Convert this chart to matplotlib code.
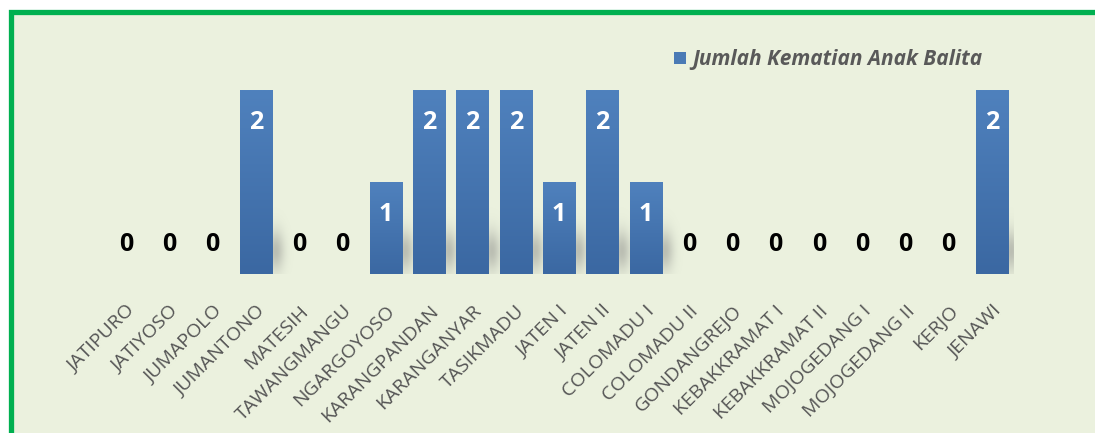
import numpy as np
import matplotlib
matplotlib.use("Agg")
import matplotlib.pyplot as plt
from matplotlib.patches import Rectangle
from matplotlib.colors import LinearSegmentedColormap

desa = ["JATIPURO", "JATIYOSO", "JUMAPOLO", "JUMANTONO", "MATESIH", "TAWANGMANGU",
        "NGARGOYOSO", "KARANGPANDAN", "KARANGANYAR", "TASIKMADU", "JATEN I", "JATEN II",
        "COLOMADU I", "COLOMADU II", "GONDANGREJO", "KEBAKKRAMAT I", "KEBAKKRAMAT II",
        "MOJOGEDANG I", "MOJOGEDANG II", "KERJO", "JENAWI"]
kematian = [0, 0, 0, 2, 0, 0, 1, 2, 2, 2, 1, 2, 1, 0, 0, 0, 0, 0, 0, 0, 2]
seri = "Jumlah Kematian Anak Balita"

plt.rcParams['font.family'] = ['Open Sans', 'DejaVu Sans']

W, H = 1095, 433
fig = plt.figure(figsize=(W / 100, H / 100), dpi=100, facecolor="white")

# chart area with green border
fig.patches.append(Rectangle((10.5 / W, -20 / H), 1100 / W, (421.5 + 20) / H,
                             transform=fig.transFigure, facecolor="#EBF1DE",
                             edgecolor="#00B050", linewidth=3.8, zorder=-1))

ax = fig.add_axes([104.35 / W, 159 / H, 909.3 / W, 230 / H])
ax.set_facecolor("none")
for s in ax.spines.values():
    s.set_visible(False)

x = np.arange(len(desa))
bw = 0.74
bar_cmap = LinearSegmentedColormap.from_list("bar", ["#3B68A2", "#4F81BD"])

# soft shadows
xs = np.linspace(-0.5, 20.5, 900)
ys = np.linspace(0, 2.5, 250)
XX, YY = np.meshgrid(xs, ys)
shade = np.zeros_like(XX)
for xi, v in zip(x, kematian):
    if v > 0:
        shade += np.exp(-((XX - xi - 0.45) / 0.2) ** 2 - ((YY - 0.25) / 0.22) ** 2)
shade = np.clip(shade, 0, 1) * 0.4
rgba = np.zeros(shade.shape + (4,))
rgba[..., :3] = 0.45
rgba[..., 3] = shade
ax.imshow(rgba, extent=[-0.5, 20.5, 0, 2.5], origin="lower", aspect="auto", zorder=1)

bars = ax.bar(x, kematian, width=bw, color="#4A7AB5", zorder=2)
grad = np.linspace(0, 1, 100).reshape(-1, 1)
for b, v in zip(bars, kematian):
    if v > 0:
        im = ax.imshow(grad, extent=[b.get_x(), b.get_x() + bw, 0, v], origin="lower",
                       cmap=bar_cmap, aspect="auto", zorder=3)
        im.set_clip_path(b)

for xi, v in zip(x, kematian):
    if v > 0:
        ax.text(xi, v - 0.35, str(v), ha="center", va="center", color="white",
                fontsize=18, fontweight="bold", zorder=4)
    else:
        ax.text(xi, 0.32, str(v), ha="center", va="center", color="black",
                fontsize=18, fontweight="bold", zorder=4)

ax.set_xlim(-0.5, 20.5)
ax.set_ylim(0, 2.5)
ax.set_yticks([])
ax.set_xticks(x)
ax.set_xticklabels(desa, rotation=45, ha="right", rotation_mode="anchor",
                   color="#555555", fontsize=14)
ax.tick_params(axis="x", length=0, pad=20)

# legend
fig.patches.append(Rectangle((674 / W, (H - 64) / H), 12 / W, 12 / H,
                             transform=fig.transFigure, facecolor="#4A7AB5",
                             edgecolor="none", zorder=5))
fig.text(692 / W, (H - 59) / H, seri, ha="left", va="center", color="#595959",
         fontsize=15, fontweight="bold", fontstyle="italic")

fig.savefig("out.png", dpi=100, facecolor="white")
